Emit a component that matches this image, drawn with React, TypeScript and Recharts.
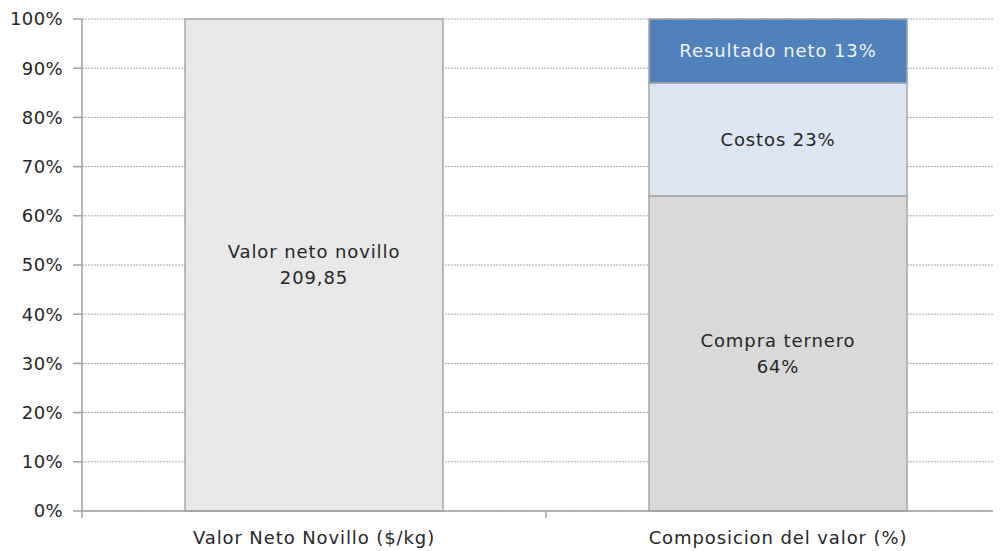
import React from "react";
import { BarChart, Bar, XAxis, YAxis, CartesianGrid, LabelList } from "recharts";

const categories = ["Valor Neto Novillo ($/kg)", "Composicion del valor (%)"];
const valorNeto = [100, 0];
const compraTernero = [0, 64];
const costos = [0, 23];
const resultadoNeto = [0, 13];
const yTicks = [0, 10, 20, 30, 40, 50, 60, 70, 80, 90, 100];

const valorLabels = ["Valor neto novillo\n209,85", ""];
const compraLabels = ["", "Compra ternero\n64%"];
const costosLabels = ["", "Costos 23%"];
const resultadoLabels = ["", "Resultado neto 13%"];

const data = categories.map((c, i) => ({
  name: c,
  valor: valorNeto[i],
  compra: compraTernero[i],
  costos: costos[i],
  resultado: resultadoNeto[i],
  valorLabel: valorLabels[i],
  compraLabel: compraLabels[i],
  costosLabel: costosLabels[i],
  resultadoLabel: resultadoLabels[i],
}));

const FONT = "'DejaVu Sans', sans-serif";

const makeLabel = (color: string) => (props: any) => {
  const { x, y, width, height, value } = props;
  const vb = props.viewBox || {};
  const X = x ?? vb.x;
  const Y = y ?? vb.y;
  const W = width ?? vb.width;
  const H = height ?? vb.height;
  if (!value || !H) return null;
  const ls = String(value).split("\n");
  const cx = X + W / 2;
  const cy = Y + H / 2;
  const lh = 26;
  const start = cy - ((ls.length - 1) * lh) / 2;
  return (
    <text textAnchor="middle" fill={color} fontSize={18} letterSpacing={0.9} fontFamily={FONT}>
      {ls.map((l, k) => (
        <tspan key={k} x={cx} y={start + k * lh} dy="0.35em">
          {l}
        </tspan>
      ))}
    </text>
  );
};

const CatTick = (props: any) => {
  const { x, y, payload, index, visibleTicksCount } = props;
  const half = payload && payload.offset ? payload.offset : 0;
  const isLast = index === (visibleTicksCount || categories.length) - 1;
  return (
    <g>
      <line x1={x - half} x2={x - half} y1={y - 8} y2={y - 1} stroke="#a0a0a0" strokeWidth={1.5} />
      {isLast && (
        <line x1={x + half} x2={x + half} y1={y - 8} y2={y - 1} stroke="#a0a0a0" strokeWidth={1.5} />
      )}
      <text x={x} y={y + 25} textAnchor="middle" fill="#262626" fontSize={18} letterSpacing={0.9} fontFamily={FONT}>
        {payload.value}
      </text>
    </g>
  );
};

export default function App() {
  return (
    <div style={{ width: 993, height: 543, overflow: "hidden", background: "#fff" }}>
      <BarChart
        width={1002}
        height={543}
        data={data}
        margin={{ top: 11, right: 0, bottom: 0, left: 0 }}
        barSize={258}
      >
        <CartesianGrid vertical={false} stroke="#a8a8a8" strokeDasharray="2 1" />
        <XAxis
          dataKey="name"
          height={40}
          axisLine={{ stroke: "#a0a0a0", strokeWidth: 1.5 }}
          tickLine={false}
          tick={<CatTick />}
          interval={0}
        />
        <YAxis
          width={74}
          domain={[0, 100]}
          ticks={yTicks}
          tickFormatter={(v: number) => `${v}%`}
          axisLine={{ stroke: "#a0a0a0", strokeWidth: 1.5 }}
          tickLine={{ stroke: "#a0a0a0", strokeWidth: 1.5 }}
          tickSize={9}
          tickMargin={10}
          tick={{ fill: "#262626", fontSize: 18, fontFamily: FONT, letterSpacing: 0.4 }}
          interval={0}
        />
        <Bar dataKey="valor" stackId="s" fill="#e8e8e8" stroke="#a6a6a6" strokeWidth={1.5} isAnimationActive={false}>
          <LabelList dataKey="valorLabel" content={makeLabel("#262626")} />
        </Bar>
        <Bar dataKey="compra" stackId="s" fill="#d9d9d9" stroke="#a6a6a6" strokeWidth={1.5} isAnimationActive={false}>
          <LabelList dataKey="compraLabel" content={makeLabel("#262626")} />
        </Bar>
        <Bar dataKey="costos" stackId="s" fill="#dce6f2" stroke="#a6a6a6" strokeWidth={1.5} isAnimationActive={false}>
          <LabelList dataKey="costosLabel" content={makeLabel("#262626")} />
        </Bar>
        <Bar dataKey="resultado" stackId="s" fill="#4f81bd" stroke="#a6a6a6" strokeWidth={1.5} isAnimationActive={false}>
          <LabelList dataKey="resultadoLabel" content={makeLabel("#f2f2f2")} />
        </Bar>
      </BarChart>
    </div>
  );
}
